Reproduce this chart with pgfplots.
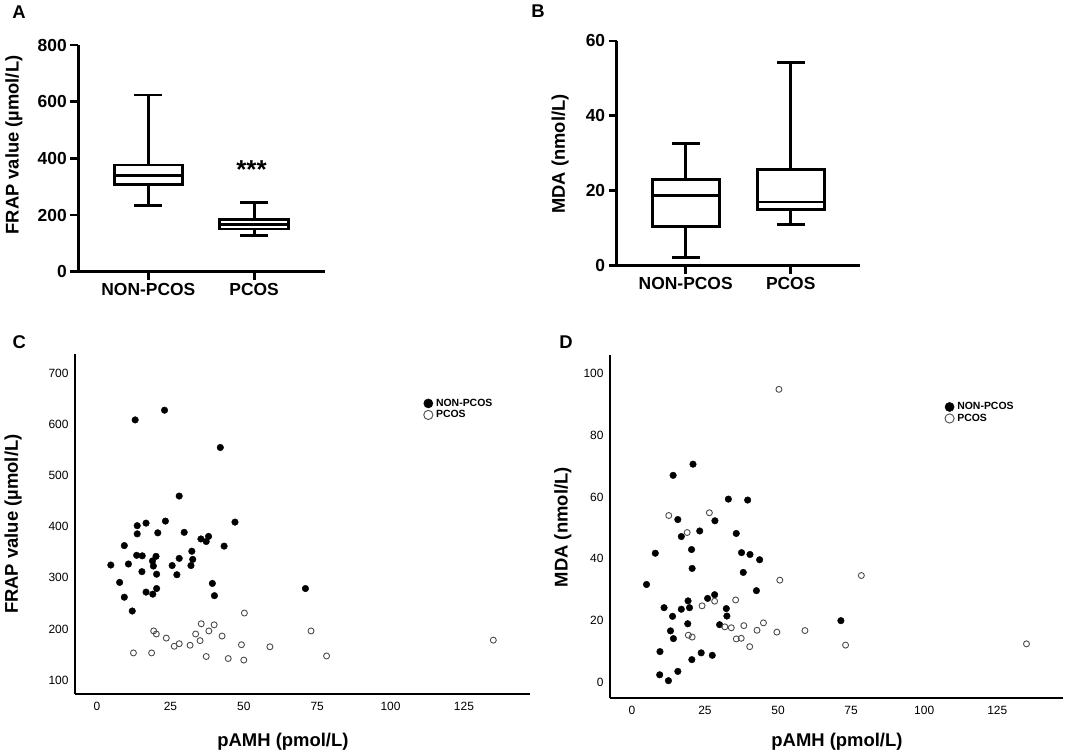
\documentclass[border=0pt]{standalone}
\usepackage{fontspec}
\setmainfont{Liberation Sans}
\usepackage{pgfplots}
\usepackage{pgfplotstable}
\pgfplotsset{compat=1.18}

\pgfplotstableread{
x y
13 609
23 628
42 555
28 460
13.7 402
16.7 407
23.3 411
47 409
13.7 386
20.7 388
29.7 389
35.4 376
38 381
37.2 371
9.3 363
43.3 362
13.5 344
15.4 343
20.1 342
18.9 333
32.3 352
28 338
32.6 336
4.7 325
10.7 327
19.2 323
25.6 324
32 324
15.3 312
20.3 307
27.2 306
7.7 291
39.3 289
16.7 272
20.3 279
19 268
9.3 262
40 265
71 279
12 235
}\frapnon

\pgfplotstableread{
x y
12.4 153
18.6 153
19.3 196
20.2 190
23.6 182
26.3 166
28 171
31.7 168
33.6 190
35.5 210
35.1 177
38.1 196
39.9 208
37.2 146
42.6 186
44.7 142
50.2 231
49.2 169
50 139
58.9 165
72.9 196
78.2 147
135 178
}\frappcos

\pgfplotstableread{
x y
14.1 67
20.9 70.6
33 59.3
39.6 59
15.7 52.7
28.4 52.3
23.2 49
35.7 48.2
16.9 47.2
8 41.8
20.4 43
37.5 42
40.4 41.4
43.7 39.7
20.6 36.9
38.1 35.6
5 31.7
42.6 29.7
28.3 28.4
25.9 27.2
19.2 26.4
11 24.2
16.9 23.7
19.7 24.2
32.3 23.9
32.5 21.5
13.9 21.4
71.5 20
19.1 19
30 18.7
13.2 16.7
14.2 14.2
9.6 10
23.7 9.6
27.5 8.8
20.5 7.4
15.7 3.6
9.5 2.5
12.5 0.6
}\mdanon

\pgfplotstableread{
x y
50.3 94.8
12.6 54
26.5 54.9
18.9 48.5
50.6 33.1
78.5 34.6
28.3 26.3
35.5 26.7
24 24.8
45 19.3
31.8 18
34 17.7
38.3 18.4
42.8 16.9
49.6 16.3
59.2 16.8
19.3 15.3
20.6 14.7
35.7 14.1
37.4 14.3
40.3 11.6
73.1 12.1
135 12.5
}\mdapcos

\pgfplotsset{
  boxax/.style={
    scale only axis, anchor=south west, clip=false,
    axis x line*=bottom, axis y line*=left,
    axis line style={line width=2.8bp, black},
    tick align=outside, major tick length=8bp,
    tick style={black, line width=2.8bp},
    xtick={1,2}, xticklabels={NON-PCOS,PCOS},
    xmin=0.338, xmax=2.67,
    tick label style={font=\bfseries\fontsize{17.5}{20}\selectfont},
    /pgf/number format/assume math mode=true,
    ylabel style={font=\bfseries\fontsize{18.4}{20}\selectfont, anchor=center},
  },
  bxs/.style={black, line width=2.9bp, line join=miter, line cap=rect, mark=none},
  scatax/.style={
    scale only axis, anchor=south west, clip=false,
    axis x line*=bottom, axis y line*=left,
    axis line style={line width=1.8bp, black},
    major tick length=0pt,
    xmin=-7.5, xmax=147.5,
    xtick={0,25,50,75,100,125},
    tick label style={font=\fontsize{12}{14}\selectfont},
    xticklabel style={yshift=-4bp},
    yticklabel style={xshift=-3bp},
    /pgf/number format/assume math mode=true,
    ylabel style={font=\bfseries\fontsize{18.5}{20}\selectfont, anchor=center},
    xlabel style={font=\bfseries\fontsize{18.5}{20}\selectfont, anchor=center},
    legend cell align=left,
  },
  legsty/.style={legend style={draw=none, fill=none, anchor=north west,
    font=\bfseries\fontsize{10.5}{12}\selectfont, inner sep=0pt,
    row sep=1.5bp, nodes={inner sep=0.6bp},
    /tikz/every odd column/.append style={column sep=2.5bp}}},
  nonp/.style={only marks, mark=*, mark size=3.3bp, black,
    legend image post style={mark size=4.6bp}},
  pcp/.style={only marks, mark=o, mark size=3bp, draw=black!70, line width=0.9bp,
    legend image post style={mark size=4.6bp}},
}

\begin{document}
\begin{tikzpicture}
\useasboundingbox (0,0) rectangle (1065bp,753bp);

% Panel letters
\node[font=\bfseries\fontsize{18.5}{20}\selectfont] at (19bp,741.3bp) {A};
\node[font=\bfseries\fontsize{18.5}{20}\selectfont] at (538bp,742.3bp) {B};
\node[font=\bfseries\fontsize{18.5}{20}\selectfont] at (19.3bp,410.5bp) {C};
\node[font=\bfseries\fontsize{18.5}{20}\selectfont] at (566bp,410.5bp) {D};

% Panel A
\begin{axis}[boxax,
  at={(78.3bp,481.3bp)}, width=246.7bp, height=226.7bp,
  ymin=0, ymax=800, ytick={0,200,400,600,800},
  ylabel={FRAP value (µmol/L)},
  ylabel style={at={(axis description cs:-0.261,0.559)}},
]
% NON-PCOS: min 233, Q1 308, median 338.8, Q3 376.5, max 623.6
\addplot[bxs] coordinates {(0.68,308) (1.32,308) (1.32,376.5) (0.68,376.5) (0.68,308)};
\addplot[bxs] coordinates {(0.68,338.8) (1.32,338.8)};
\addplot[bxs] coordinates {(1,376.5) (1,623.6)};
\addplot[bxs] coordinates {(0.88,623.6) (1.12,623.6)};
\addplot[bxs] coordinates {(1,308) (1,233)};
\addplot[bxs] coordinates {(0.88,233) (1.12,233)};
% PCOS: min 127, Q1 150.6, median 168, Q3 185, max 245
\addplot[bxs] coordinates {(1.675,150.6) (2.325,150.6) (2.325,185) (1.675,185) (1.675,150.6)};
\addplot[bxs] coordinates {(1.675,168) (2.325,168)};
\addplot[bxs] coordinates {(2,185) (2,245)};
\addplot[bxs] coordinates {(1.88,245) (2.12,245)};
\addplot[bxs] coordinates {(2,150.6) (2,127)};
\addplot[bxs] coordinates {(1.88,127) (2.12,127)};
\node[font=\bfseries\fontsize{26}{26}\selectfont, anchor=base, inner sep=0pt]
  at (axis cs:1.975,329) {***};
\end{axis}

% Panel B
\begin{axis}[boxax,
  at={(616.7bp,487.3bp)}, width=243.3bp, height=224.7bp,
  xmin=0.343, xmax=2.66,
  ymin=0, ymax=60, ytick={0,20,40,60},
  ylabel={MDA (nmol/L)},
  ylabel style={at={(axis description cs:-0.233,0.497)}},
]
% NON-PCOS: min 2.1, Q1 10.5, median 18.7, Q3 23, max 32.7
\addplot[bxs] coordinates {(0.68,10.5) (1.32,10.5) (1.32,23) (0.68,23) (0.68,10.5)};
\addplot[bxs] coordinates {(0.68,18.7) (1.32,18.7)};
\addplot[bxs] coordinates {(1,23) (1,32.7)};
\addplot[bxs] coordinates {(0.88,32.7) (1.12,32.7)};
\addplot[bxs] coordinates {(1,10.5) (1,2.1)};
\addplot[bxs] coordinates {(0.88,2.1) (1.12,2.1)};
% PCOS: min 11.1, Q1 14.9, median 17, Q3 25.7, max 54.3
\addplot[bxs] coordinates {(1.68,14.9) (2.32,14.9) (2.32,25.7) (1.68,25.7) (1.68,14.9)};
\addplot[bxs] coordinates {(1.68,17) (2.32,17)};
\addplot[bxs] coordinates {(2,25.7) (2,54.3)};
\addplot[bxs] coordinates {(1.88,54.3) (2.12,54.3)};
\addplot[bxs] coordinates {(2,14.9) (2,11.1)};
\addplot[bxs] coordinates {(1.88,11.1) (2.12,11.1)};
\end{axis}

% Panel C
\begin{axis}[scatax, legsty,
  at={(75bp,58.7bp)}, width=455bp, height=340.3bp,
  ymin=72, ymax=738, ytick={100,200,...,700},
  ylabel={FRAP value (µmol/L)},
  ylabel style={at={(axis description cs:-0.136,0.50)}},
  xlabel={pAMH (pmol/L)},
  xlabel style={at={(axis description cs:0.457,-0.140)}},
  legend style={at={(0.766,0.870)}},
]
\addplot[nonp] table {\frapnon};
\addlegendentry{NON-PCOS}
\addplot[pcp] table {\frappcos};
\addlegendentry{PCOS}
\end{axis}

% Panel D
\begin{axis}[scatax, legsty,
  at={(610bp,54.7bp)}, width=453bp, height=343.6bp,
  ymin=-5.1, ymax=106, ytick={0,20,...,100},
  ylabel={MDA (nmol/L)},
  ylabel style={at={(axis description cs:-0.104,0.498)}},
  xlabel={pAMH (pmol/L)},
  xlabel style={at={(axis description cs:0.501,-0.127)}},
  legend style={at={(0.739,0.863)}},
]
\addplot[nonp] table {\mdanon};
\addlegendentry{NON-PCOS}
\addplot[pcp] table {\mdapcos};
\addlegendentry{PCOS}
\end{axis}
\end{tikzpicture}
\end{document}
